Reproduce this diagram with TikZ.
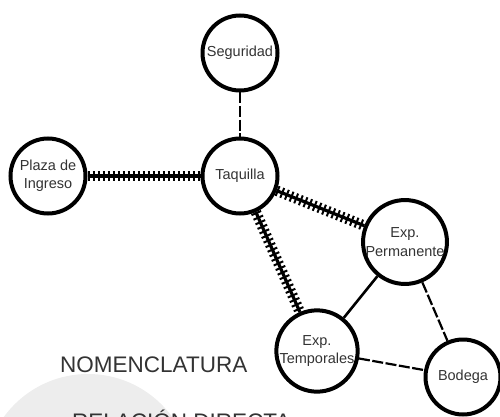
\documentclass[tikz,border=0pt]{standalone}
\usepackage{fontspec}
\setmainfont{Liberation Sans}
\begin{document}
\begin{tikzpicture}[x=1pt,y=-1pt,
  area/.style={circle,draw=black,line width=4pt,minimum size=75pt,inner sep=0pt,
    font=\fontsize{14.5}{18.5}\selectfont,text=black!80,align=center},
  rail/.style={line width=3.2pt,postaction={draw,line width=10.5pt,dash pattern=on 2pt off 3pt}},
  dashline/.style={line width=2.2pt,dash pattern=on 11pt off 2.5pt},
  solidline/.style={line width=2.6pt},
  title/.style={font=\fontsize{22.5}{25}\selectfont,text=black!80,anchor=base west,inner sep=0pt}]
\useasboundingbox (0,0) rectangle (500,417);
\clip (0,0) rectangle (500,417);
\fill[black!7] (88,478) circle (104);
\node[area] (seg) at (240,53) {Seguridad};
\node[area] (taq) at (240,176) {Taquilla};
\node[area] (plz) at (48,176) {Plaza de\\Ingreso};
\node[area] (per) at (405,242) {Exp.\\Permanente};
\node[area] (tem) at (317,351) {Exp.\\Temporales};
\node[area] (bod) at (463,377) {Bodega};
\draw[dashline] (seg) -- (taq);
\draw[rail] (plz) -- (taq);
\draw[rail] (taq) -- (per);
\draw[rail] (taq) -- (tem);
\draw[solidline] (per) -- (tem);
\draw[dashline] (per) -- (bod);
\draw[dashline] (tem) -- (bod);
\node[title] (nom) at (60,372) {NOMENCLATURA};
\node[title] (rel) at (72,429) {RELACIÓN DIRECTA};
\end{tikzpicture}
\end{document}
